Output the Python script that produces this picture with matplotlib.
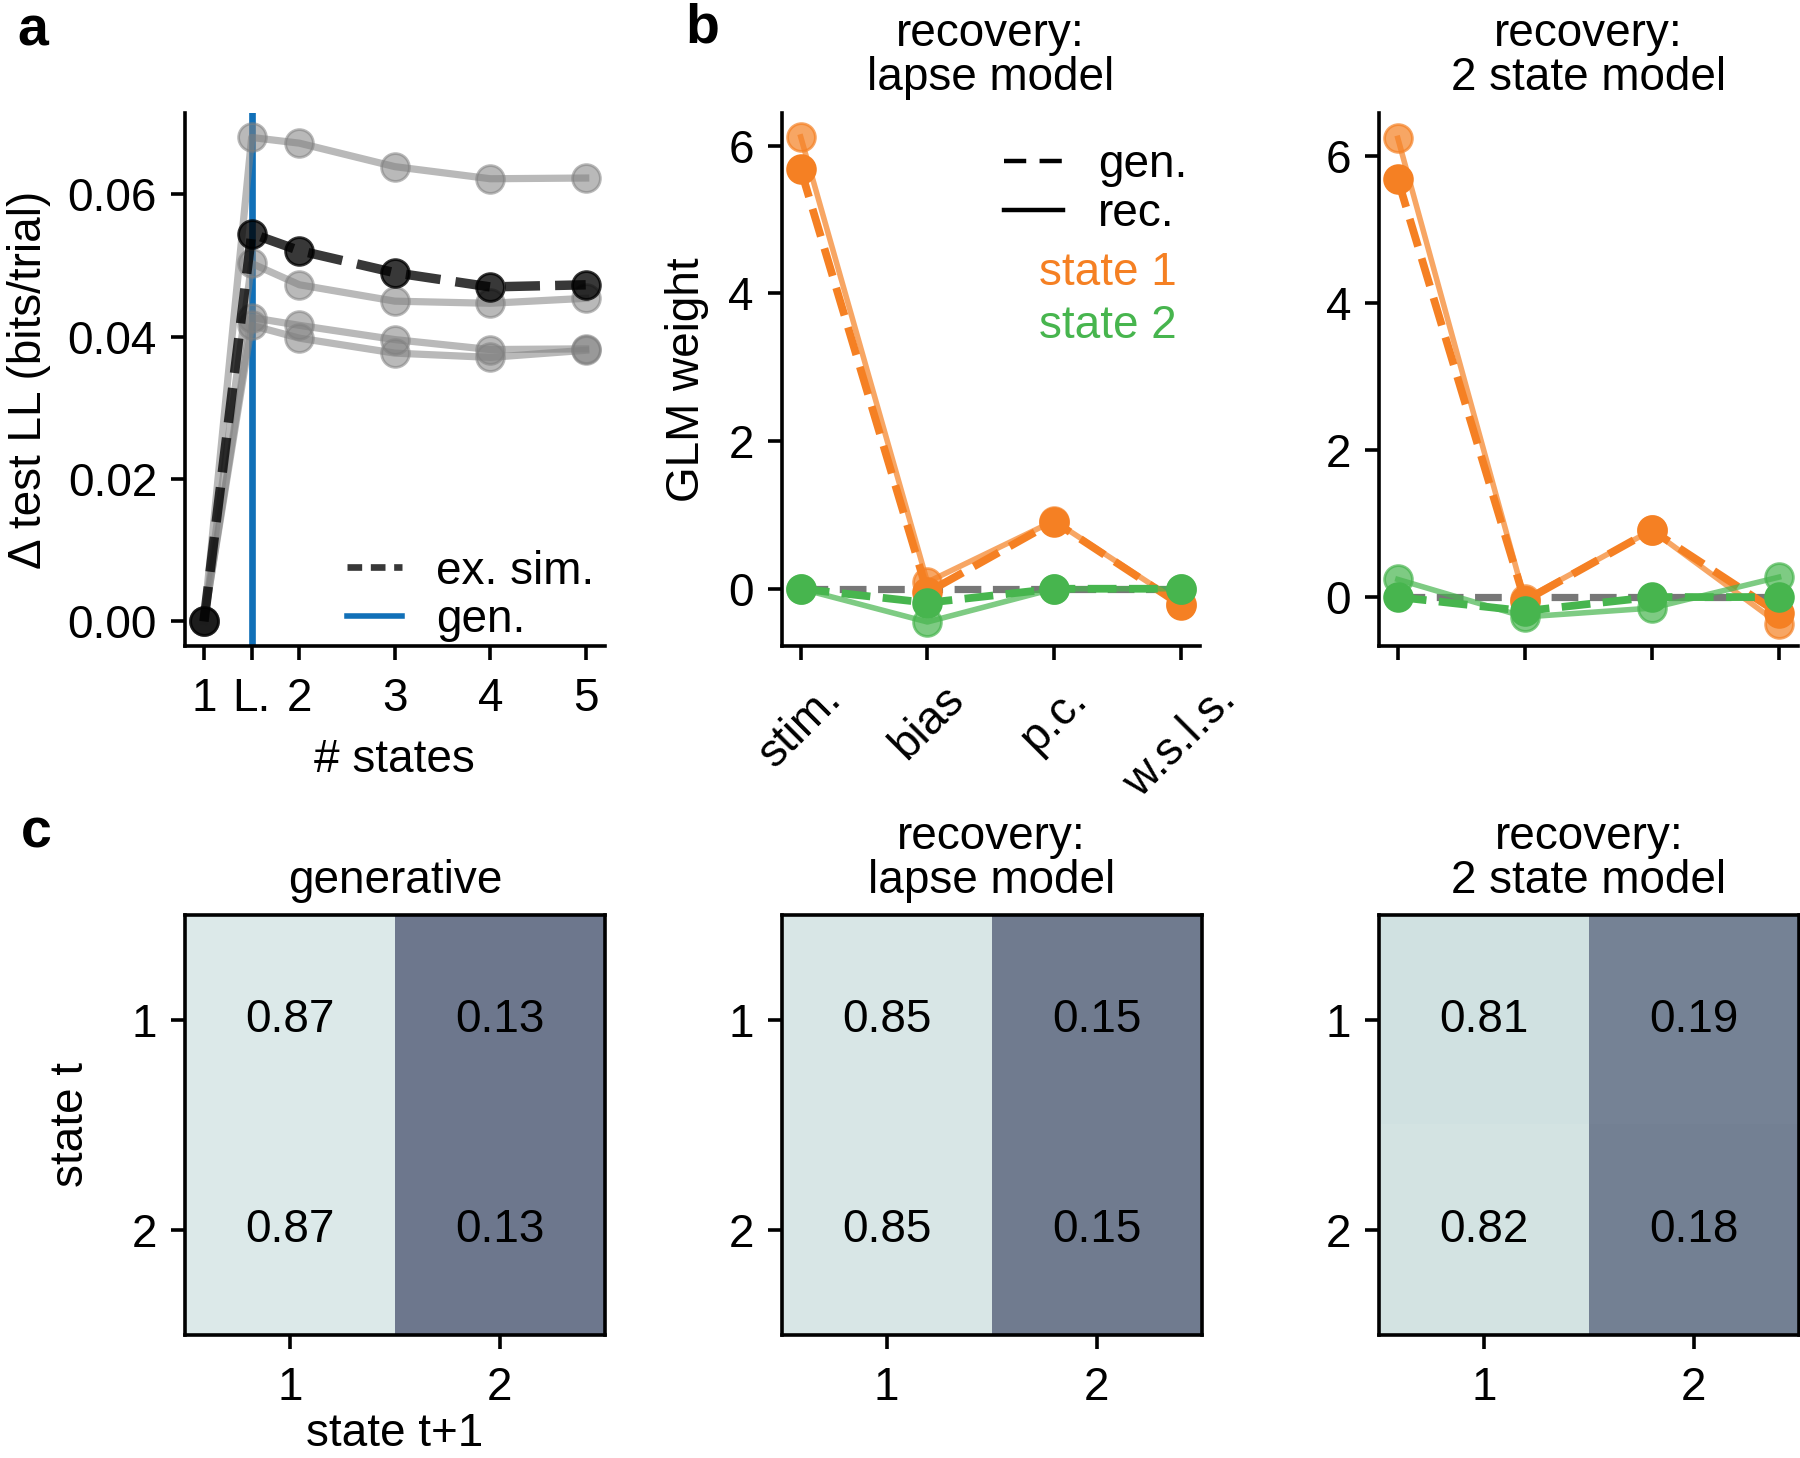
import matplotlib
matplotlib.use('Agg')
import numpy as np
import matplotlib.pyplot as plt
from matplotlib.lines import Line2D

plt.rcParams['font.family'] = ['Liberation Sans', 'DejaVu Sans']
plt.rcParams['font.size'] = 16.5
plt.rcParams['axes.linewidth'] = 1.3
plt.rcParams['xtick.major.width'] = 1.3
plt.rcParams['ytick.major.width'] = 1.3
plt.rcParams['xtick.major.size'] = 5
plt.rcParams['ytick.major.size'] = 5
plt.rcParams['xtick.major.pad'] = 6
plt.rcParams['ytick.major.pad'] = 5

ORANGE = '#f58023'
GREEN = '#47b54e'
BLUE = '#1170b8'

# panel a: test log-likelihood vs number of states
state_pos = [1, 1.5, 2, 3, 4, 5]
state_labels = ['1', 'L.', '2', '3', '4', '5']
example_ll = [0.0, 0.0545, 0.0521, 0.0490, 0.0470, 0.0473]
other_ll = [
    [0.0, 0.0680, 0.0672, 0.0639, 0.0622, 0.0623],
    [0.0, 0.0503, 0.0473, 0.0450, 0.0447, 0.0454],
    [0.0, 0.0427, 0.0416, 0.0396, 0.0382, 0.0383],
    [0.0, 0.0416, 0.0398, 0.0377, 0.0371, 0.0381],
]
gen_states = 1.5

# panel b: GLM weights, generative vs recovered
weight_labels = ['stim.', 'bias', 'p.c.', 'w.s.l.s.']
gen_w1 = [5.68, -0.05, 0.91, -0.22]
gen_w2 = [0.0, -0.19, 0.0, 0.0]
lapse_rec_w1 = [6.12, 0.09, 0.92, -0.20]
lapse_rec_w2 = [0.0, -0.45, 0.0, 0.0]
two_rec_w1 = [6.24, -0.03, 0.91, -0.36]
two_rec_w2 = [0.24, -0.27, -0.15, 0.27]

# panel c: transition matrices
trans_gen = [[0.87, 0.13], [0.87, 0.13]]
trans_lapse = [[0.85, 0.15], [0.85, 0.15]]
trans_two = [[0.81, 0.19], [0.82, 0.18]]

fig = plt.figure(figsize=(9, 7.29), dpi=200)


def despine(ax):
    ax.spines['top'].set_visible(False)
    ax.spines['right'].set_visible(False)


# Panel a
ax = fig.add_axes([0.1027, 0.5567, 0.2333, 0.3661])
ax.axvline(gen_states, color=BLUE, lw=2.4, zorder=1)
for ll in other_ll:
    ax.plot(state_pos, ll, '-o', color='gray', alpha=0.55, lw=2.6, ms=10, zorder=2)
ax.plot(state_pos, example_ll, '--o', color='k', alpha=0.78, lw=3.4, ms=10, zorder=3)
ax.set_xticks(state_pos)
ax.set_xticklabels(state_labels)
ax.set_yticks([0, 0.02, 0.04, 0.06])
ax.set_xlim(0.8, 5.2)
ax.set_ylim(-0.0035, 0.0715)
ax.set_xlabel('# states', labelpad=6)
ax.set_ylabel('Δ test LL (bits/trial)', labelpad=6)
despine(ax)
handles = [Line2D([], [], ls=(0, (2.2, 1.3)), color='k', alpha=0.78, lw=2.4),
           Line2D([], [], color=BLUE, lw=2.0)]
ax.legend(handles, ['ex. sim.', 'gen.'], loc='lower right', frameon=False,
          handlelength=1.2, handletextpad=0.75, borderpad=0.0, labelspacing=0.1,
          bbox_to_anchor=(1.03, -0.035))


# Panel b
def plot_weights(ax, rec1, rec2):
    x = np.arange(len(weight_labels))
    ax.plot(x, np.zeros(len(x)), '--', color='#777777', lw=2.6, zorder=1)
    ax.plot(x, rec1, '-o', color=ORANGE, alpha=0.7, lw=2.0, ms=10, zorder=2)
    ax.plot(x, gen_w1, '--o', color=ORANGE, lw=2.8, ms=10, zorder=3)
    ax.plot(x, rec2, '-o', color=GREEN, alpha=0.7, lw=2.0, ms=10, zorder=4)
    ax.plot(x, gen_w2, '--o', color=GREEN, lw=2.8, ms=10, zorder=5)
    ax.set_xticks(x)
    ax.set_yticks([0, 2, 4, 6])
    ax.set_xlim(-0.15, 3.15)
    despine(ax)


ax_b1 = fig.add_axes([0.4343, 0.5567, 0.2322, 0.3661])
plot_weights(ax_b1, lapse_rec_w1, lapse_rec_w2)
ax_b1.set_ylim(-0.78, 6.45)
ax_b1.set_xticklabels(weight_labels, rotation=45)
ax_b1.set_ylabel('GLM weight', labelpad=7)
ax_b1.set_title('recovery:\nlapse model', fontsize=16.5, pad=8, linespacing=1.0)
handles = [Line2D([], [], ls=(0, (5, 3)), color='k', lw=1.6),
           Line2D([], [], color='k', lw=1.6)]
ax_b1.legend(handles, ['gen.', 'rec.'], loc='upper right', frameon=False,
             handlelength=1.3, handletextpad=0.75, borderpad=0.0, labelspacing=0.1,
             bbox_to_anchor=(1.025, 0.985))
ax_b1.text(0.615, 0.70, 'state 1', color=ORANGE, transform=ax_b1.transAxes, va='center')
ax_b1.text(0.615, 0.60, 'state 2', color=GREEN, transform=ax_b1.transAxes, va='center')

ax_b2 = fig.add_axes([0.766, 0.5567, 0.2327, 0.3661])
plot_weights(ax_b2, two_rec_w1, two_rec_w2)
ax_b2.set_ylim(-0.67, 6.59)
ax_b2.set_xticklabels([])
ax_b2.set_title('recovery:\n2 state model', fontsize=16.5, pad=8, linespacing=1.0)


# Panel c
def plot_trans(ax, mat, title):
    mat = np.array(mat)
    ax.imshow(mat, cmap='bone', vmin=-0.755, vmax=1.05, aspect='auto')
    for i in range(mat.shape[0]):
        for j in range(mat.shape[1]):
            ax.text(j, i, '%.2f' % mat[i, j], ha='center', va='center')
    ax.set_xticks([0, 1])
    ax.set_xticklabels(['1', '2'])
    ax.set_yticks([0, 1])
    ax.set_yticklabels(['1', '2'])
    ax.set_title(title, fontsize=16.5, pad=8, linespacing=1.0)


c_lefts = [0.1027, 0.4343, 0.766]
c_titles = ['generative', 'recovery:\nlapse model', 'recovery:\n2 state model']
c_mats = [trans_gen, trans_lapse, trans_two]
for left, mat, title in zip(c_lefts, c_mats, c_titles):
    ax_c = fig.add_axes([left, 0.0843, 0.2333, 0.2882])
    plot_trans(ax_c, mat, title)
    if left == c_lefts[0]:
        ax_c.set_xlabel('state t+1', labelpad=1)
        ax_c.set_ylabel('state t', labelpad=14)

# panel letters
fig.text(0.0095, 0.996, 'a', fontsize=20, fontweight='bold', va='top')
fig.text(0.381, 0.998, 'b', fontsize=20, fontweight='bold', va='top')
fig.text(0.0115, 0.446, 'c', fontsize=20, fontweight='bold', va='top')

fig.savefig('out.png', dpi=200)
